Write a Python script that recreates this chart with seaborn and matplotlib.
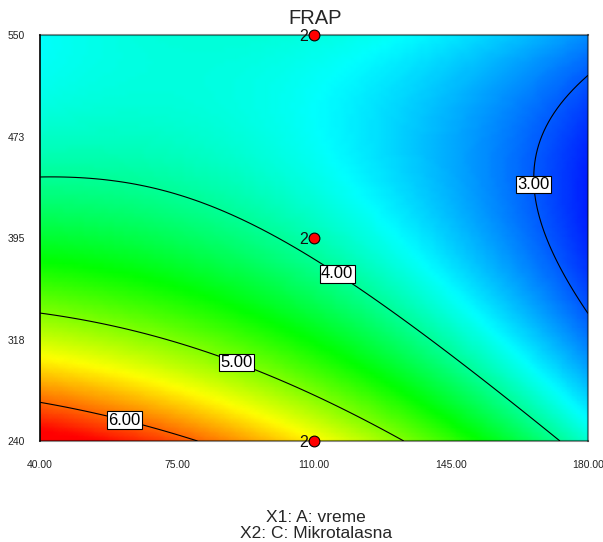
import numpy as np
import pandas as pd
import matplotlib
matplotlib.use("Agg")
import matplotlib.pyplot as plt
from matplotlib.colors import LinearSegmentedColormap
import seaborn as sns

# ---- data ----
title = "FRAP"
x_label = "X1: A: vreme"
y_label = "X2: C: Mikrotalasna"
x_range = [40.0, 180.0]          # A: vreme
y_range = [240.0, 550.0]         # C: Mikrotalasna
x_ticks = [40.0, 75.0, 110.0, 145.0, 180.0]
x_tick_labels = ["40.00", "75.00", "110.00", "145.00", "180.00"]
y_ticks = [240.0, 317.5, 395.0, 472.5, 550.0]
y_tick_labels = ["240", "318", "395", "473", "550"]
# fitted quadratic model (coded units): Intercept, A, C, AC, A^2, C^2
coef_terms = ["Intercept", "A", "C", "AC", "A2", "C2"]
coef_values = [3.902, -0.790, -0.873, 0.570, -0.322, 0.705]
contour_levels = [3.0, 4.0, 5.0, 6.0]
# design points
dp_x = [110.0, 110.0, 110.0]
dp_y = [550.0, 395.0, 240.0]
dp_count = [2, 2, 2]

# ---- surface from the model ----
coef = dict(zip(coef_terms, coef_values))
xs = np.linspace(x_range[0], x_range[1], 110)
ys = np.linspace(y_range[0], y_range[1], 90)
XX, YY = np.meshgrid(xs, ys)
A = (XX - np.mean(x_range)) / (np.diff(x_range)[0] / 2)
C = (YY - np.mean(y_range)) / (np.diff(y_range)[0] / 2)
Z = (coef["Intercept"] + coef["A"] * A + coef["C"] * C + coef["AC"] * A * C
     + coef["A2"] * A ** 2 + coef["C2"] * C ** 2)

sns.set_style("white")
plt.rcParams["font.family"] = ["Liberation Sans", "DejaVu Sans"]

fig = plt.figure(figsize=(6.03, 5.42), dpi=100)
ax = fig.add_axes([40 / 603, 1 - 441 / 542, 548 / 603, 406 / 542])

cmap = LinearSegmentedColormap.from_list(
    "de", ["#0010ff", "#00ffff", "#00ff00", "#ffff00", "#ff0000"])
ax.pcolormesh(XX, YY, Z, cmap=cmap, shading="gouraud",
              vmin=Z.min() - 0.05, vmax=Z.max() - 0.15, rasterized=True)

cs = ax.contour(XX, YY, Z, levels=contour_levels, colors="black", linewidths=0.8)
label_pos = [(167.0, 436.0), (117.4, 374.4), (91.1, 307.2), (62.2, 263.7)]
lbls = ax.clabel(cs, fmt="%.2f", fontsize=12, inline=False,
                 manual=label_pos)
for t in lbls:
    t.set_rotation(0)
    t.set_bbox(dict(facecolor="white", edgecolor="black", linewidth=0.8,
                    boxstyle="square,pad=0.08"))

dp = pd.DataFrame({"x": dp_x, "y": dp_y, "n": dp_count})
sns.scatterplot(data=dp, x="x", y="y", ax=ax, color="#ff0000", edgecolor="black",
                linewidth=0.8, s=60, zorder=5, clip_on=False, legend=False)
for _, r in dp.iterrows():
    ax.annotate(str(int(r["n"])), (r["x"], r["y"]), xytext=(-4.5, -1),
                textcoords="offset points", ha="right", va="center",
                fontsize=11.5, color="#111111", zorder=6, annotation_clip=False)

ax.set_xlim(*x_range)
ax.set_ylim(*y_range)
ax.set_xticks(x_ticks)
ax.set_xticklabels(x_tick_labels)
ax.set_yticks(y_ticks)
ax.set_yticklabels(y_tick_labels)
ax.tick_params(axis="both", direction="out", length=8, width=1.0,
               color="#222222", labelsize=7.5, labelcolor="#222222")
ax.tick_params(axis="x", pad=6)
ax.tick_params(axis="y", pad=3)
ax.set_xlabel("")
ax.set_ylabel("")
for side in ["top", "right", "bottom"]:
    ax.spines[side].set_color((0, 0, 0, 0.45))
    ax.spines[side].set_linewidth(1.5)
ax.spines["left"].set_color("black")
ax.spines["left"].set_linewidth(1.2)

fig.text(315 / 603, 1 - 24 / 542, title, ha="center", va="baseline", fontsize=14.5)
fig.text(316 / 603, 1 - 517 / 542, x_label, ha="center", va="center", fontsize=12.5)
fig.text(316 / 603, 1 - 533 / 542, y_label, ha="center", va="center", fontsize=12.5)

fig.savefig("out.png", dpi=100)
